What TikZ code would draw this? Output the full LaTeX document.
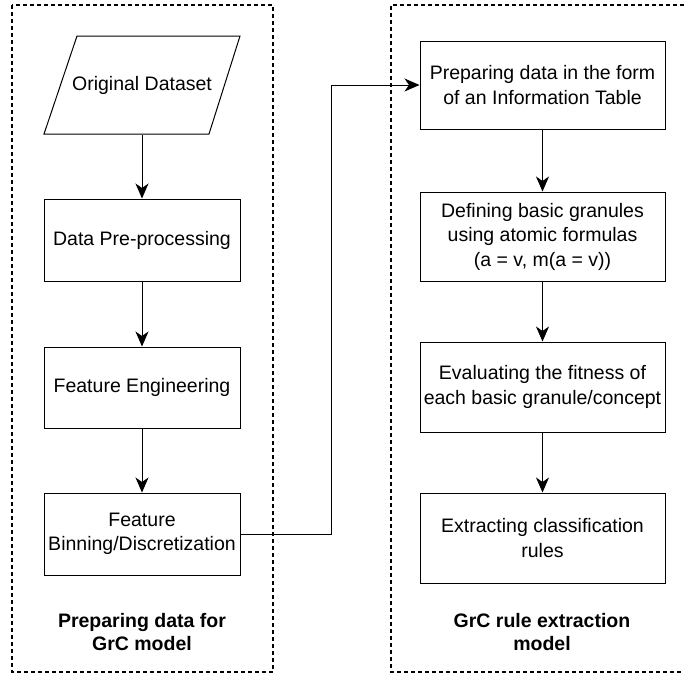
\documentclass[tikz,border=0pt]{standalone}
\usepackage{fontspec}
\setmainfont{Liberation Sans}
\usetikzlibrary{arrows.meta}

\begin{document}
\begin{tikzpicture}[x=1pt,y=-1pt,
		blockbox/.style={draw, line width=1pt, align=center, inner sep=2pt,
			font=\fontsize{19.5}{24.5}\selectfont},
		flowarrow/.style={line width=1pt, -{Stealth[length=15pt,width=13pt,inset=4.5pt]}},
		groupframe/.style={line width=1.2pt, dash pattern=on 4pt off 3pt},
		grouplabel/.style={align=center, font=\fontsize{19.5}{23}\selectfont\bfseries}]
				\useasboundingbox (0,0) rectangle (684,675);
				
				% left group: preparing the data
				\draw[groupframe] (12,5) rectangle (273,672);
				\draw[line width=1pt] (44,134) -- (77,36) -- (240,36) -- (209,134) -- cycle;
				\node[blockbox, draw=none, minimum width=196pt, minimum height=98pt] (orig) at (142,85) {Original Dataset};
				\node[blockbox, minimum width=196pt, minimum height=82pt] (prep) at (142,240) {Data Pre-processing};
				\node[blockbox, minimum width=196pt, minimum height=81pt] (feat) at (142,387.5) {Feature Engineering};
				\node[blockbox, minimum width=196pt, minimum height=82pt] (bin) at (142,534) {Feature\\Binning/Discretization};
				\node[grouplabel] (leftlbl) at (142,632) {Preparing data for\\GrC model};
				
				% right group: GrC rule extraction
				\draw[groupframe] (684,5) -- (391,5) -- (391,672) -- (684,672);
				\node[blockbox, minimum width=245pt, minimum height=88pt] (info) at (542.5,85) {Preparing data in the form\\of an Information Table};
				\node[blockbox, minimum width=245pt, minimum height=89pt] (gran) at (542.5,236.5) {Defining basic granules\\using atomic formulas\\(a = v, m(a = v))};
				\node[blockbox, minimum width=245pt, minimum height=90pt] (fit) at (542.5,387) {Evaluating the fitness of\\each basic granule/concept};
				\node[blockbox, minimum width=245pt, minimum height=90pt] (rules) at (542.5,538) {Extracting classification\\rules};
				\node[grouplabel] (rightlbl) at (542,632) {GrC rule extraction\\model};
				
				% connectors
				\draw[flowarrow] (orig) -- (prep);
				\draw[flowarrow] (prep) -- (feat);
				\draw[flowarrow] (feat) -- (bin);
				\draw[flowarrow] (bin.east) -- ++(91,0) |- (info.west);
				\draw[flowarrow] (info) -- (gran);
				\draw[flowarrow] (gran) -- (fit);
				\draw[flowarrow] (fit) -- (rules);
			\end{tikzpicture}
\end{document}
